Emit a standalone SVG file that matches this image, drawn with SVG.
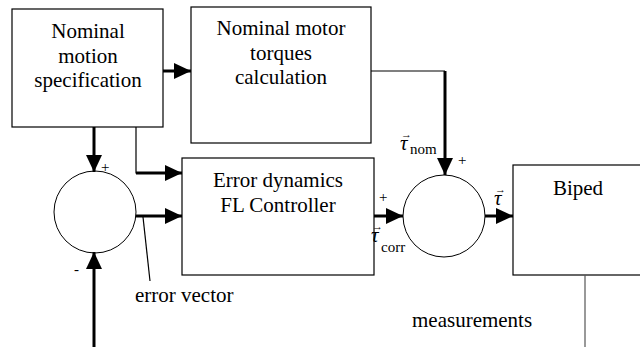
<svg xmlns="http://www.w3.org/2000/svg" width="640" height="347" viewBox="0 0 640 347">
<style>
.dgTxt{font-family:"Liberation Serif","Times New Roman",serif;font-size:21px;fill:#000}
.dgSmall{font-family:"Liberation Serif","Times New Roman",serif;font-size:15px;fill:#000}
.dgVec{font-family:"Liberation Serif","Times New Roman",serif;font-size:11px;fill:#000}
.dgIt{font-style:italic}
.dgBox{fill:#fff;stroke:#000;stroke-width:1.2}
.dgThick{stroke:#000;stroke-width:3;fill:none}
.dgThin{stroke:#000;stroke-width:1.2;fill:none}
.dgCircle{fill:none;stroke:#000;stroke-width:1}
</style>
<defs>
<marker id="ah" markerUnits="userSpaceOnUse" markerWidth="17" markerHeight="16" refX="17" refY="8" orient="auto">
<path d="M0,0 L17,8 L0,16 z" fill="#000"/>
</marker>
</defs>
<g id="nominalMotion">
<rect class="dgBox" x="12" y="9" width="151" height="118"/>
<g font-family="Liberation Serif, serif" font-size="21" fill="#000" text-anchor="middle">
<text class="dgTxt" style="font-family:'Liberation Serif',serif;font-size:21px;fill:#000" x="88" y="38">Nominal</text>
<text class="dgTxt" style="font-family:'Liberation Serif',serif;font-size:21px;fill:#000" x="88" y="63">motion</text>
<text class="dgTxt" style="font-family:'Liberation Serif',serif;font-size:21px;fill:#000" x="88" y="87">specification</text>
</g>
</g>
<g id="nominalTorques">
<rect class="dgBox" x="191" y="7" width="180" height="136"/>
<g font-family="Liberation Serif, serif" font-size="21" fill="#000" text-anchor="middle">
<text class="dgTxt" style="font-family:'Liberation Serif',serif;font-size:21px;fill:#000" x="281" y="35">Nominal motor</text>
<text class="dgTxt" style="font-family:'Liberation Serif',serif;font-size:21px;fill:#000" x="281" y="60">torques</text>
<text class="dgTxt" style="font-family:'Liberation Serif',serif;font-size:21px;fill:#000" x="281" y="84">calculation</text>
</g>
</g>
<g id="errorDynamics">
<rect class="dgBox" x="182" y="158" width="192" height="117"/>
<g font-family="Liberation Serif, serif" font-size="21" fill="#000" text-anchor="middle">
<text class="dgTxt" style="font-family:'Liberation Serif',serif;font-size:21px;fill:#000" x="278" y="187">Error dynamics</text>
<text class="dgTxt" style="font-family:'Liberation Serif',serif;font-size:21px;fill:#000" x="278" y="212">FL Controller</text>
</g>
</g>
<g id="biped">
<rect class="dgBox" x="513" y="165" width="140" height="110"/>
<g font-family="Liberation Serif, serif" font-size="21" fill="#000" text-anchor="middle">
<text class="dgTxt" style="font-family:'Liberation Serif',serif;font-size:21px;fill:#000" x="578" y="195">Biped</text>
</g>
</g>
<g id="sumError">
<circle class="dgCircle" cx="95" cy="212" r="41"/>
<g font-family="Liberation Serif, serif" font-size="15" fill="#000">
<text class="dgSmall" style="font-family:'Liberation Serif',serif;font-size:15px;fill:#000" x="101" y="172">+</text>
<text class="dgSmall" style="font-family:'Liberation Serif',serif;font-size:15px;fill:#000" x="74" y="274">-</text>
</g>
</g>
<g id="sumTorque">
<circle class="dgCircle" cx="444" cy="216" r="41"/>
<g font-family="Liberation Serif, serif" font-size="15" fill="#000">
<text class="dgSmall" style="font-family:'Liberation Serif',serif;font-size:15px;fill:#000" x="458" y="165">+</text>
<text class="dgSmall" style="font-family:'Liberation Serif',serif;font-size:15px;fill:#000" x="379" y="202">+</text>
</g>
</g>
<g id="connectors">
<line class="dgThick" x1="163" y1="71" x2="191" y2="71" marker-end="url(#ah)"/>
<line class="dgThick" x1="94" y1="127" x2="94" y2="172" marker-end="url(#ah)"/>
<polyline class="dgThin" points="136,127 136,173 138,173"/>
<line class="dgThick" x1="136" y1="173" x2="182" y2="173" marker-end="url(#ah)"/>
<line class="dgThick" x1="136" y1="216" x2="182" y2="216" marker-end="url(#ah)"/>
<line class="dgThin" x1="143" y1="217" x2="150" y2="281"/>
<polyline class="dgThin" points="371,71 445,71"/>
<line class="dgThick" x1="445" y1="71" x2="445" y2="175" marker-end="url(#ah)"/>
<line class="dgThick" x1="374" y1="216" x2="403" y2="216" marker-end="url(#ah)"/>
<line class="dgThick" x1="485" y1="216" x2="513" y2="216" marker-end="url(#ah)"/>
<line class="dgThick" x1="94" y1="347" x2="94" y2="252" marker-end="url(#ah)"/>
<line x1="585" y1="275" x2="585" y2="347" stroke="#555" stroke-width="1.2"/>
</g>
<g id="labels">
<text class="dgTxt" x="135" y="302">error vector</text>
<text class="dgTxt" x="412" y="327">measurements</text>
<text class="dgTxt dgIt" x="400" y="150">τ</text>
<text class="dgVec" x="401" y="138">→</text>
<text class="dgSmall" x="410" y="154">nom</text>
<text class="dgTxt dgIt" x="371" y="242">τ</text>
<text class="dgVec" x="372" y="230">→</text>
<text class="dgSmall" x="381" y="252">corr</text>
<text class="dgTxt dgIt" x="494" y="205">τ</text>
<text class="dgVec" x="495" y="193">→</text>
</g>
</svg>
